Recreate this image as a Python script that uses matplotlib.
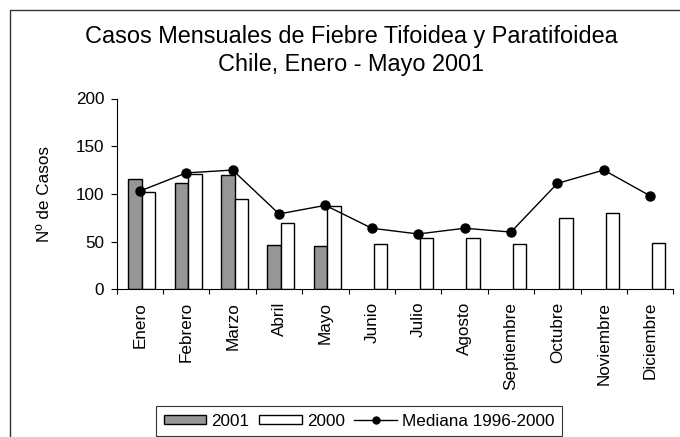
import numpy as np
import matplotlib.pyplot as plt
from matplotlib.lines import Line2D

plt.rcParams['font.family'] = ['Liberation Sans', 'DejaVu Sans']

meses = ['Enero', 'Febrero', 'Marzo', 'Abril', 'Mayo', 'Junio', 'Julio',
         'Agosto', 'Septiembre', 'Octubre', 'Noviembre', 'Diciembre']
casos_2001 = [116, 111, 120, 46, 45]
casos_2000 = [102, 121, 95, 70, 87, 48, 54, 54, 48, 75, 80, 49]
mediana = [103, 122, 125, 79, 88, 64, 58, 64, 60, 111, 125, 98]

fs = 12.3

fig = plt.figure(figsize=(6.8, 4.37), dpi=100)
ax = fig.add_axes([116.7 / 680, 1 - 289.3 / 437, 556.6 / 680, 190.8 / 437])

x = np.arange(len(meses))
w = 0.29
ax.bar(x[:len(casos_2001)] - w / 2 + 0.04, casos_2001, w, color='#969696',
       edgecolor='black', linewidth=1, label='2001', zorder=2)
ax.bar(x + w / 2 + 0.04, casos_2000, w, color='white',
       edgecolor='black', linewidth=1, label='2000', zorder=2)
ax.plot(x, mediana, color='black', lw=1, marker='o', ms=6.5,
        label='Mediana 1996-2000', zorder=3)

ax.set_xlim(-0.5, len(meses) - 0.5)
ax.set_ylim(0, 200)
ax.set_yticks([0, 50, 100, 150, 200])
ax.set_xticks(x)
ax.set_xticklabels(meses, rotation=90, fontsize=fs)
ax.set_xticks(np.arange(len(meses) + 1) - 0.5, minor=True)
ax.tick_params(axis='x', which='major', length=0, pad=9)
ax.tick_params(axis='x', which='minor', length=3.6, width=0.8, direction='out')
ax.tick_params(axis='y', length=4.5, width=0.8, labelsize=fs, pad=4.5)
for s in ['top', 'right']:
    ax.spines[s].set_visible(False)
for s in ['left', 'bottom']:
    ax.spines[s].set_linewidth(0.8)

ax.set_ylabel('Nº de Casos', fontsize=fs)
ax.yaxis.set_label_coords(-0.116, 0.5)

fig.text(0.516, 1 - 37 / 437, 'Casos Mensuales de Fiebre Tifoidea y Paratifoidea',
         ha='center', va='center', fontsize=16.9)
fig.text(0.516, 1 - 65 / 437, 'Chile, Enero - Mayo 2001',
         ha='center', va='center', fontsize=16.9)

handles = [plt.Rectangle((0, 0), 1, 1, facecolor='#969696', edgecolor='black', lw=1),
           plt.Rectangle((0, 0), 1, 1, facecolor='white', edgecolor='black', lw=1),
           Line2D([], [], color='black', lw=1, marker='o', ms=5)]
leg = fig.legend(handles, ['2001', '2000', 'Mediana 1996-2000'],
                 loc='upper left', bbox_to_anchor=(156 / 680, 1 - 406 / 437),
                 ncol=3, fontsize=fs, frameon=True, fancybox=False,
                 handlelength=2.5, handleheight=0.47, handletextpad=0.3,
                 columnspacing=0.55, borderpad=0.45, borderaxespad=0)
leg.get_frame().set_edgecolor('black')
leg.get_frame().set_linewidth(0.8)

# marco del grafico
fig.add_artist(Line2D([10 / 680, 10 / 680, 1], [0, 1 - 10 / 437, 1 - 10 / 437],
                      transform=fig.transFigure, color='#333333', lw=1))

fig.savefig('out.png', dpi=100)
